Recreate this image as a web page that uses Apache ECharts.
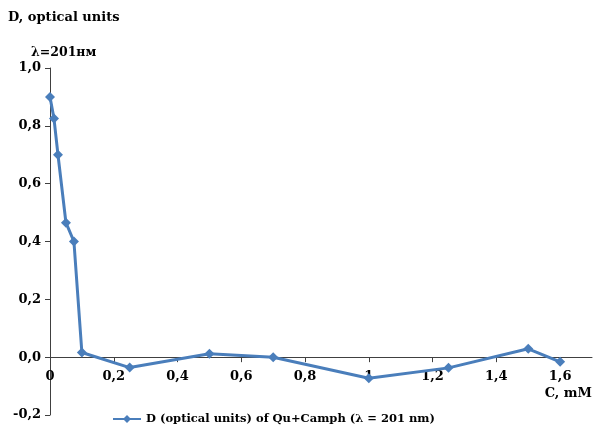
<!DOCTYPE html>
<html>
<head>
<meta charset="utf-8">
<script src="https://cdn.jsdelivr.net/npm/echarts@6/dist/echarts.min.js"></script>
<style>html,body{margin:0;padding:0;background:#fff}#c{width:600px;height:430px}</style>
</head>
<body>
<div id="c"></div>
<script>
var concentrations = [0, 0.0125, 0.025, 0.05, 0.075, 0.1, 0.25, 0.5, 0.7, 1.0, 1.25, 1.5, 1.6];
var opticalD = [0.90, 0.825, 0.70, 0.465, 0.40, 0.016, -0.036, 0.012, 0.0, -0.073, -0.037, 0.029, -0.016];
var xTicks = [0, 0.2, 0.4, 0.6, 0.8, 1, 1.2, 1.4, 1.6];
var seriesName = 'D (optical units) of Qu+Camph (λ = 201 nm)';
var yTitle = 'D, optical units';
var waveNote = 'λ=201нм';
var xTitle = 'C, mM';

var font = 'DejaVu Serif, serif';
var gridTop = 68, gridBottom = 15, H = 430;
var yMin = -0.2, yMax = 1.0;
var gridH = H - gridTop - gridBottom;
var zeroOffset = -gridH * (0 - yMin) / (yMax - yMin);

var chart = echarts.init(document.getElementById('c'), null, {renderer: 'canvas'});
var pts = concentrations.map(function (x, i) { return [x, opticalD[i]]; });
chart.setOption({
  animation: false,
  grid: {left: 50, right: 8, top: gridTop, bottom: gridBottom, containLabel: false},
  graphic: [
    {type: 'text', left: 8, top: 11, style: {text: yTitle, font: 'bold 13px ' + font, fill: '#000'}},
    {type: 'text', left: 31, top: 46, style: {text: waveNote, font: 'bold 12.5px ' + font, fill: '#000'}}
  ],
  legend: {
    left: 107, top: 408, itemWidth: 28, itemHeight: 10, itemGap: 3,
    textStyle: {fontFamily: font, fontWeight: 'bold', fontSize: 11.5, color: '#000'},
    data: [seriesName]
  },
  xAxis: {
    type: 'value', min: 0, max: 1.7, interval: 0.2,
    offset: zeroOffset,
    name: xTitle, nameLocation: 'end', nameGap: 0,
    nameTextStyle: {fontFamily: font, fontWeight: 'bold', fontSize: 13, color: '#000', align: 'right', verticalAlign: 'top', padding: [30, 0, 0, 0]},
    axisLine: {onZero: false, lineStyle: {color: '#404040', width: 1}},
    axisTick: {show: true, inside: false, length: 5, customValues: xTicks, lineStyle: {color: '#404040'}},
    axisLabel: {
      customValues: xTicks, margin: 13,
      fontFamily: font, fontWeight: 'bold', fontSize: 13, color: '#000',
      formatter: function (v) {
        var r = Math.round(v * 10) / 10;
        if (Math.abs(r - Math.round(r)) < 1e-9) return String(Math.round(r));
        return r.toFixed(1).replace('.', ',');
      }
    },
    splitLine: {show: false}
  },
  yAxis: {
    type: 'value', min: yMin, max: yMax, interval: 0.2,
    axisLine: {show: true, onZero: false, lineStyle: {color: '#404040', width: 1}},
    axisTick: {show: true, inside: false, length: 5, lineStyle: {color: '#404040'}},
    axisLabel: {
      margin: 9, fontFamily: font, fontWeight: 'bold', fontSize: 13, color: '#000',
      formatter: function (v) { return (Math.round(v * 10) / 10).toFixed(1).replace('.', ','); }
    },
    splitLine: {show: false}
  },
  series: [{
    name: seriesName, type: 'line', data: pts,
    symbol: 'diamond', symbolSize: 10,
    lineStyle: {color: '#4a7ebb', width: 3},
    itemStyle: {color: '#4a7ebb'}
  }]
});
</script>
</body>
</html>
